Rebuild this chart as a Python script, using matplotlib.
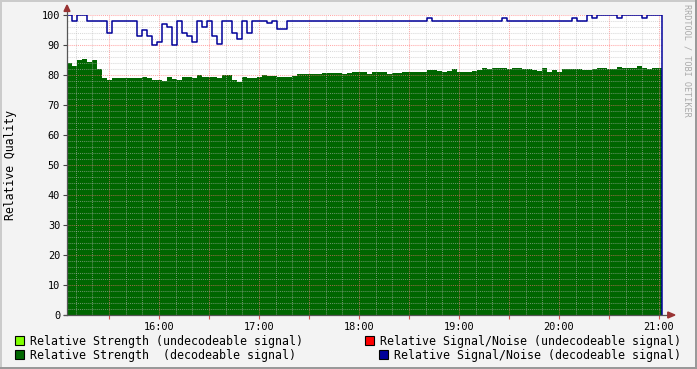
import matplotlib
matplotlib.use('Agg')
import matplotlib.pyplot as plt
import matplotlib.dates as mdates
import matplotlib.ticker as mticker
import pandas as pd
from matplotlib.patches import Rectangle, Polygon
from matplotlib.lines import Line2D

plt.rcParams['font.family'] = 'DejaVu Sans Mono'

# samples every 3 minutes starting 15:05
start = '2024-01-01 15:05'
step = '3min'

# relative strength (decodeable signal)
strength = [
    84, 83, 85, 85.5, 84.5, 85, 82, 79, 78.5, 79,
    79, 79, 79, 79, 79, 79.5, 79, 78.5, 78.5, 78,
    79.2, 78.8, 78.5, 79.4, 79.3, 78.9, 80, 79.2, 79.5, 79.5,
    78.9, 80, 80, 78.5, 77.8, 79.4, 79, 79, 79.5, 80,
    79.7, 79.8, 79.3, 79.3, 79.4, 79.7, 80.2, 80.5, 80.4, 80.5,
    80.2, 80.7, 80.8, 80.8, 80.7, 80.2, 80.8, 81, 81, 81,
    80.3, 81, 81, 81, 80.2, 80.8, 80.6, 81, 81, 81,
    81, 81, 81.8, 81.6, 81.3, 81, 81.3, 81.9, 81, 81,
    81, 81.5, 81.8, 82.4, 82, 82.4, 82.4, 82.2, 81.9, 82.2,
    82.4, 82, 81.9, 81.6, 81.4, 82.2, 81, 81.8, 81, 82,
    82, 82, 82, 81.7, 81.8, 82, 82.4, 82.4, 82, 82,
    82.8, 82.5, 82.4, 82.4, 83, 82.4, 82, 82.4, 82.3, 0,
]

# relative signal/noise (decodeable signal)
sn = [
    100, 98, 100, 100, 98, 98, 98, 98, 94, 98,
    98, 98, 98, 98, 93, 95, 93, 90, 91, 97,
    96, 90, 98, 94, 93, 91, 98, 96, 98, 93,
    90.5, 98, 98, 94, 92, 98, 94, 98, 98, 98,
    97.5, 98, 95.5, 95.5, 98, 98, 98, 98, 98, 98,
    98, 98, 98, 98, 98, 98, 98, 98, 98, 98,
    98, 98, 98, 98, 98, 98, 98, 98, 98, 98,
    98, 98, 99, 98, 98, 98, 98, 98, 98, 98,
    98, 98, 98, 98, 98, 98, 98, 99, 98, 98,
    98, 98, 98, 98, 98, 98, 98, 98, 98, 98,
    98, 99, 98, 98, 100, 99, 100, 100, 100, 100,
    99, 100, 100, 100, 100, 99, 100, 100, 100, 0,
]

legend_labels = [
    'Relative Strength (undecodeable signal)',
    'Relative Signal/Noise (undecodeable signal)',
    'Relative Strength  (decodeable signal)',
    'Relative Signal/Noise (decodeable signal)',
]
legend_colors = ['#80FF00', '#FF0000', '#006600', '#000099']

W, H = 697, 369
fig = plt.figure(figsize=(W / 100, H / 100), dpi=100, facecolor='#F3F3F3')
ax = fig.add_axes([67 / W, (H - 315) / H, 596 / W, 300 / H])
ax.set_facecolor('white')

times = pd.date_range(start, periods=len(strength), freq=step)

ax.fill_between(times, 0, strength, step='post', color='#006600', lw=0, zorder=2)
ax.step(times, sn, where='post', color='#000099', lw=1.1, zorder=4)

ax.set_xlim(pd.Timestamp('2024-01-01 15:04:48'), pd.Timestamp('2024-01-01 21:02:24'))
ax.set_ylim(0, 100)

# ticks / grid
ax.xaxis.set_major_locator(mdates.MinuteLocator(byminute=[0, 30]))
ax.xaxis.set_minor_locator(mdates.MinuteLocator(byminute=range(0, 60, 10)))
ax.xaxis.set_major_formatter(mticker.FuncFormatter(
    lambda v, p: mdates.num2date(v).strftime('%H:%M') if mdates.num2date(v).minute == 0 else ''))
ax.yaxis.set_major_locator(mticker.MultipleLocator(10))
ax.yaxis.set_minor_locator(mticker.MultipleLocator(2))

ax.set_axisbelow(False)
ax.grid(which='minor', color='#BBBBBB', alpha=0.55, lw=0.75, ls=(0, (1, 1)))
ax.grid(which='major', color='#FF7070', alpha=0.6, lw=0.75, ls=(0, (1, 1)))

ax.tick_params(axis='y', which='major', length=3, color='#444444', labelsize=7.4, pad=2)
ax.tick_params(axis='x', which='major', length=3, color='#DD5555', labelsize=7.4, pad=2)
ax.tick_params(which='minor', length=0)

for s in ax.spines.values():
    s.set_visible(False)

# axis lines with arrows
ax.add_line(Line2D([0, 0], [0, 1.03], transform=ax.transAxes, color='#555555', lw=0.9, clip_on=False, zorder=5))
ax.add_line(Line2D([-0.005, 1.012], [0, 0], transform=ax.transAxes, color='#555555', lw=0.9, clip_on=False, zorder=5))
ax.add_patch(Polygon([(-0.005, 1.012), (0.005, 1.012), (0, 1.033)], closed=True,
                     transform=ax.transAxes, color='#993333', clip_on=False, zorder=6))
ax.add_patch(Polygon([(1.008, -0.01), (1.008, 0.01), (1.02, 0)], closed=True,
                     transform=ax.transAxes, color='#993333', clip_on=False, zorder=6))

fig.text(11 / W, 1 - 165 / H, 'Relative Quality', rotation=90, ha='center', va='center', fontsize=8.3)
fig.text(687 / W, 1 - 4 / H, 'RRDTOOL / TOBI OETIKER', rotation=270, ha='center', va='top',
         fontsize=6.1, color='#AAAAAA')

# legend
box_pos = [(15, 336), (365, 336), (15, 350), (379, 350)]
for (bx, by), lab, col in zip(box_pos, legend_labels, legend_colors):
    fig.add_artist(Rectangle((bx / W, 1 - (by + 9) / H), 9 / W, 9 / H, transform=fig.transFigure,
                             facecolor=col, edgecolor='black', lw=0.8))
    fig.text((bx + 15) / W, 1 - (by + 5) / H, lab, ha='left', va='center', fontsize=8.35)

# 3d border
fig.add_artist(Rectangle((0, 1 - 2 / H), 1, 2 / H, transform=fig.transFigure, color='#CBCBCB', lw=0))
fig.add_artist(Rectangle((0, 0), 2 / W, 1, transform=fig.transFigure, color='#CBCBCB', lw=0))
fig.add_artist(Rectangle((0, 0), 1, 2 / H, transform=fig.transFigure, color='#999999', lw=0))
fig.add_artist(Rectangle((1 - 2 / W, 0), 2 / W, 1, transform=fig.transFigure, color='#999999', lw=0))

fig.savefig('out.png', dpi=100, facecolor=fig.get_facecolor())
